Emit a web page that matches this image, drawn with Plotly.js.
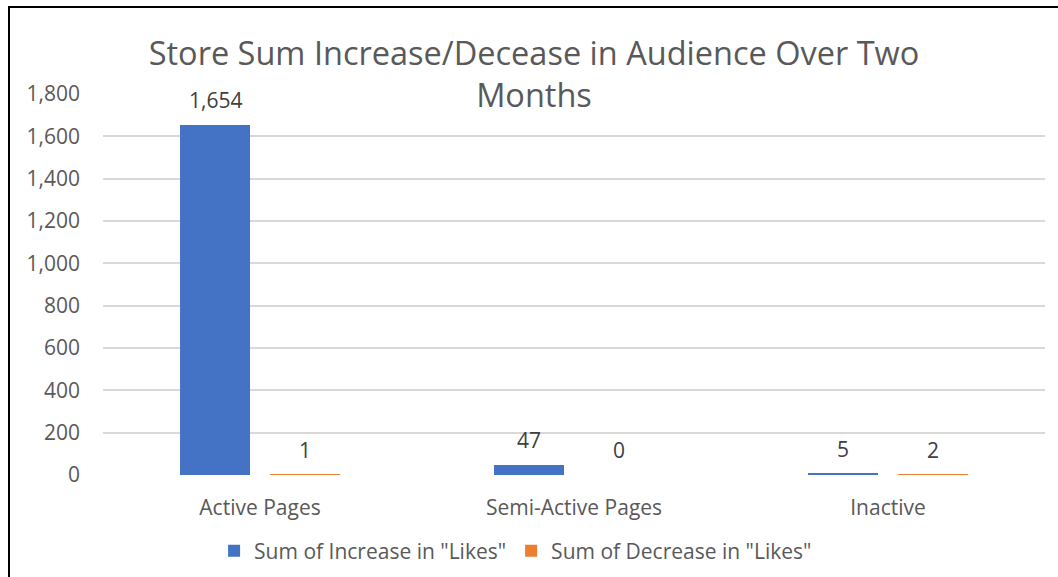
<!DOCTYPE html>
<html>
<head>
<meta charset="utf-8">
<script src="https://cdn.plot.ly/plotly-3.0.1.min.js"></script>
<style>
  html, body { margin: 0; padding: 0; background: #fff; }
  #frame { position: absolute; left: 8px; top: 6px; border-left: 2px solid #000; border-top: 2px solid #000; }
  #chart { width: 1048px; height: 569px; }
</style>
</head>
<body>
<div id="frame"><div id="chart"></div></div>
<script>
const categories = ["Active Pages", "Semi-Active Pages", "Inactive"];
const increaseLikes = [1654, 47, 5];
const decreaseLikes = [1, 0, 2];
const seriesNames = ['Sum of Increase in "Likes"', 'Sum of Decrease in "Likes"'];
const titleText = "Store Sum Increase/Decease in Audience Over Two<br>Months";

const FONT = "Open Sans, sans-serif";
const W = 1048, H = 569;
const margin = { l: 93, r: 13, t: 86, b: 102 };
const bargap = 0.427;
const bargroupgap = 0.222;
const plotW = W - margin.l - margin.r;
const slotPx = plotW / categories.length * (1 - bargap) / 2;

const colors = ["#4472C4", "#ED7D31"];
const series = [increaseLikes, decreaseLikes];

const traces = series.map((vals, i) => ({
  type: "bar",
  name: seriesNames[i],
  x: categories,
  y: vals,
  marker: { color: colors[i] },
  hoverinfo: "x+y+name"
}));

const annotations = [];
series.forEach((vals, i) => {
  vals.forEach((v, j) => {
    annotations.push({
      x: categories[j], y: v, xref: "x", yref: "y",
      text: v.toLocaleString("en-US"),
      showarrow: false,
      xshift: (i === 0 ? -1 : 1) * slotPx / 2,
      yshift: 25,
      font: { family: FONT, size: 21, color: "#404040" }
    });
  });
});

const layout = {
  width: W, height: H,
  margin: margin,
  paper_bgcolor: "#fff",
  plot_bgcolor: "#fff",
  barmode: "group",
  bargap: bargap,
  bargroupgap: bargroupgap,
  font: { family: FONT, color: "#595959" },
  title: {
    text: titleText,
    font: { family: FONT, size: 32.5, color: "#595959" },
    x: 0.5, xanchor: "center",
    y: 1 - 57 / H, yanchor: "middle"
  },
  xaxis: {
    type: "category",
    showgrid: false,
    showline: false,
    zeroline: false,
    ticks: "",
    ticklabelstandoff: 18,
    tickfont: { family: FONT, size: 21, color: "#595959" }
  },
  yaxis: {
    range: [0, 1800],
    dtick: 200,
    tick0: 0,
    tickformat: ",d",
    showgrid: true,
    gridcolor: "#D9D9D9",
    gridwidth: 1.5,
    zeroline: false,
    showline: false,
    ticks: "",
    ticklabelstandoff: 22,
    tickfont: { family: FONT, size: 21, color: "#595959" }
  },
  showlegend: true,
  legend: {
    orientation: "h",
    x: 0.438, xanchor: "center",
    yref: "container",
    y: 1 - 543 / H, yanchor: "middle",
    font: { family: FONT, size: 21, color: "#595959" },
    traceorder: "normal"
  },
  annotations: annotations
};

Plotly.newPlot("chart", traces, layout, { displayModeBar: false });
</script>
</body>
</html>
